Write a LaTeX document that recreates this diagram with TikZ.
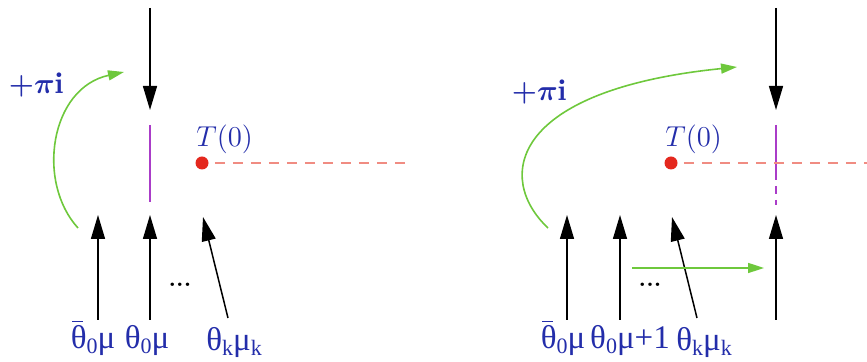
\documentclass[tikz,border=0pt]{standalone}
\usepackage{fontspec}
\newfontfamily\labfont{Liberation Serif}
\usetikzlibrary{arrows.meta}
\definecolor{labblue}{RGB}{35,45,170}
\definecolor{arrgreen}{RGB}{110,200,60}
\definecolor{dotred}{RGB}{228,40,30}
\definecolor{cutpink}{RGB}{240,140,130}
\definecolor{cutpurple}{RGB}{170,60,200}
\newcommand\lowsub[1]{\raisebox{-0.35ex}{\fontsize{11}{12}\selectfont #1}}
\tikzset{
  blk/.style={line width=0.75pt,-{Triangle[length=12pt,width=7pt]}},
  grn/.style={arrgreen,line width=0.8pt,-{Triangle[length=8pt,width=5pt]}},
  lab/.style={text=labblue,inner sep=0pt,font=\labfont\fontsize{16.5}{19}\selectfont},
  tlab/.style={text=labblue,inner sep=0pt,font=\fontsize{15}{18}\selectfont},
  cut/.style={cutpink,line width=1pt,dash pattern=on 5pt off 4pt},
  branch/.style={cutpurple,line width=0.6pt},
  pole/.style={circle,fill=dotred,inner sep=0pt,minimum size=6.5pt},
  dotsnode/.style={inner sep=0pt,font=\fontsize{12}{14}\selectfont\bfseries},
  barline/.style={labblue,line width=0.6pt}
}
\begin{document}
\begin{tikzpicture}[x=0.5pt,y=-0.5pt]
\useasboundingbox (0,0) rectangle (867,362);
% ---------------- left picture ----------------
\coordinate (Ltop) at (150,8);
\coordinate (Ltip) at (150,110);
\draw[blk] (Ltop) -- (Ltip);
\coordinate (Lpa) at (150,125);
\coordinate (Lpb) at (150,202);
\draw[branch] (Lpa) -- (Lpb);
\node[pole] (Lpole) at (202,163) {};
\coordinate (Lcutend) at (412,163);
\draw[cut] (Lpole.east) ++(6,0) -- (Lcutend);
\node[tlab,anchor=south west] (LT) at (196,154) {$T(0)$};
\node[tlab,font=\fontsize{15}{18}\selectfont\boldmath] (Lpi) at (36,85) {$+\pi\mathrm{i}$};
\node[lab] (L1) at (93,340) {θ\lowsub{0}μ};
\draw[barline] ([shift={(2,-3)}]L1.north west) -- ++(11,0);
\node[lab] (L2) at (147,340) {θ\lowsub{0}μ};
\node[lab] (L3) at (234,342) {θ\lowsub{k}μ\lowsub{k}};
\coordinate (L1b) at (98,320);  \coordinate (L1t) at (98,215);
\coordinate (L2b) at (150,320); \coordinate (L2t) at (150,215);
\coordinate (L3b) at (228,318); \coordinate (L3t) at (203,217);
\draw[blk] (L1b) -- (L1t);
\draw[blk] (L2b) -- (L2t);
\draw[blk] (L3b) -- (L3t);
\node[dotsnode] (Ldots) at (180,285) {...};
\coordinate (Lgs) at (78,228);
\coordinate (Lge) at (124,72);
\draw[grn] (Lgs) .. controls (36,182) and (50,88) .. (Lge);
% ---------------- right picture ----------------
\coordinate (Rtop) at (776,8);
\coordinate (Rtip) at (776,110);
\draw[blk] (Rtop) -- (Rtip);
\coordinate (Rpa) at (776,125);
\coordinate (Rpm) at (776,172);
\coordinate (Rpb) at (776,205);
\draw[branch] (Rpa) -- (Rpm);
\draw[branch,dash pattern=on 4pt off 3pt] (Rpm) -- (Rpb);
\node[pole] (Rpole) at (671,163) {};
\coordinate (Rcutend) at (867,163);
\draw[cut] (Rpole.east) ++(6,0) -- (Rcutend);
\node[tlab,anchor=south west] (RT) at (665,154) {$T(0)$};
\node[tlab,font=\fontsize{15}{18}\selectfont\boldmath] (Rpi) at (539,92) {$+\pi\mathrm{i}$};
\node[lab] (R1) at (563,340) {θ\lowsub{0}μ};
\draw[barline] ([shift={(2,-3)}]R1.north west) -- ++(11,0);
\node[lab] (R2) at (630,340) {θ\lowsub{0}μ+1};
\node[lab] (R3) at (704,342) {θ\lowsub{k}μ\lowsub{k}};
\coordinate (R1b) at (567,320); \coordinate (R1t) at (567,215);
\coordinate (R2b) at (620,320); \coordinate (R2t) at (620,215);
\coordinate (R3b) at (697,318); \coordinate (R3t) at (672,217);
\coordinate (R4b) at (776,320); \coordinate (R4t) at (776,215);
\draw[blk] (R1b) -- (R1t);
\draw[blk] (R2b) -- (R2t);
\draw[blk] (R3b) -- (R3t);
\draw[blk] (R4b) -- (R4t);
\node[dotsnode] (Rdots) at (650,285) {...};
\coordinate (Rgs) at (548,228);
\coordinate (Rge) at (737,67);
\draw[grn] (Rgs) .. controls (495,178) and (510,90) .. (Rge);
\coordinate (Rhs) at (632,268);
\coordinate (Rhe) at (764,268);
\draw[grn] (Rhs) -- (Rhe);
\end{tikzpicture}
\end{document}
